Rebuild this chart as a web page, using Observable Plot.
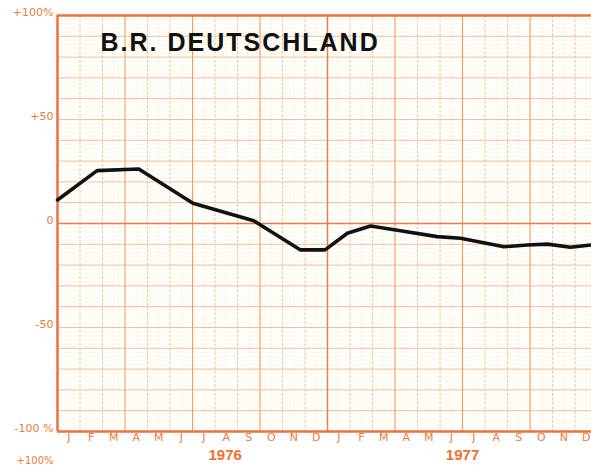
<!DOCTYPE html>
<html>
<head>
<meta charset="utf-8">
<script src="https://cdn.jsdelivr.net/npm/d3@7"></script>
<script src="https://cdn.jsdelivr.net/npm/@observablehq/plot@0.6"></script>
<style>
  html, body { margin: 0; padding: 0; background: #ffffff; overflow: hidden; }
  #chart { width: 591px; height: 470px; }
  .title-mark text { letter-spacing: 2px; }
</style>
</head>
<body>
<div id="chart"></div>
<script>
// ---- data (x = months since Jan 1976, y = percent) ----
const title = "B.R. DEUTSCHLAND";
const lineMonths = [0, 1.76, 3.61, 6.02, 8.72, 10.8, 11.89, 12.88, 13.91, 15.24, 16.87, 17.91, 19.84, 20.88, 21.77, 22.8, 23.73];
const lineValues = [11.3, 25.4, 26.2, 9.7, 1.3, -12.7, -12.7, -4.7, -1.2, -3.5, -6.3, -7.1, -11.2, -10.3, -9.9, -11.4, -10.3];
const monthLabels = ["J","F","M","A","M","J","J","A","S","O","N","D","J","F","M","A","M","J","J","A","S","O","N","D"];
const yearLabels = ["1976", "1977"];
const yearLabelPos = [7.45, 18.0];
const yTicks = [100, 50, 0, -50, -100];
const yTickLabels = ["+100%", "+50", "0", "-50", "-100 %"];
const nextChartLabel = "+100%";

const orange = "#f07a3a";
const data = lineMonths.map((m, i) => ({m, v: lineValues[i]}));
const monthPos = monthLabels.map((_, i) => i + 0.5);
const monthLines = d3.range(1, 24).filter(i => i % 3 !== 0);
const quarterLines = d3.range(3, 24, 3).filter(i => i !== 12);

const chart = Plot.plot({
  width: 591,
  height: 470,
  marginLeft: 57,
  marginRight: 0,
  marginTop: 15,
  marginBottom: 39,
  style: {background: "#ffffff", fontFamily: "'DejaVu Sans', sans-serif", overflow: "hidden"},
  x: {domain: [0, 23.73], label: null},
  y: {domain: [-100, 100], label: null},
  marks: [
    // fine graph-paper lines
    Plot.ruleY(d3.range(-98, 100, 2).filter(v => v % 10 !== 0), {stroke: "#f3eeb4", strokeWidth: 0.6, strokeDasharray: "2,2"}),
    Plot.ruleX(d3.range(0.5, 24, 1), {stroke: "#f2edae", strokeWidth: 0.6, strokeDasharray: "2,2"}),
    // major lines
    Plot.ruleY(d3.range(-90, 100, 10).filter(v => v !== 0), {stroke: "#f7b878", strokeWidth: 0.9}),
    Plot.ruleX(monthLines, {stroke: "#f5c07a", strokeWidth: 0.9, strokeDasharray: "3,1.5"}),
    Plot.ruleX(quarterLines, {stroke: "#f29c58", strokeWidth: 1.1}),
    Plot.ruleX([12], {stroke: "#ee7a40", strokeWidth: 1.4}),
    Plot.ruleY([0], {stroke: "#ee7a40", strokeWidth: 1.4}),
    // frame
    Plot.ruleY([100, -100], {stroke: "#f0703a", strokeWidth: 2.5}),
    Plot.ruleX([0], {stroke: "#f0703a", strokeWidth: 2.5}),
    // axes
    Plot.axisY({ticks: yTicks, tickFormat: d => yTickLabels[yTicks.indexOf(d)], tickSize: 0, tickPadding: 4, dy: -3, fontSize: 11, fill: orange, label: null}),
    Plot.axisX({ticks: monthPos, tickFormat: d => monthLabels[Math.floor(d)], tickSize: 0, tickPadding: 2, fontSize: 11, fill: orange, label: null}),
    Plot.text(yearLabels, {x: (d, i) => yearLabelPos[i], text: d => d, frameAnchor: "bottom", dy: 28, fontSize: 15, fontWeight: "bold", fill: "#ee6e32", fontFamily: "'Liberation Sans', sans-serif"}),
    Plot.text([nextChartLabel], {frameAnchor: "bottom-left", dx: -4, dy: 32, text: d => d, textAnchor: "end", fontSize: 10, fill: orange}),
    // title
    Plot.text([title], {frameAnchor: "top-left", dx: 43, dy: 18, text: d => d, textAnchor: "start", lineAnchor: "top", fontSize: 25, fontWeight: "bold", fill: "#111", fontFamily: "'Liberation Sans', Arial, sans-serif", className: "title-mark"}),
    // series
    Plot.line(data, {x: "m", y: "v", stroke: "#111", strokeWidth: 3.6, strokeLinejoin: "round", strokeLinecap: "round"})
  ]
});
document.getElementById("chart").appendChild(chart);
</script>
</body>
</html>
